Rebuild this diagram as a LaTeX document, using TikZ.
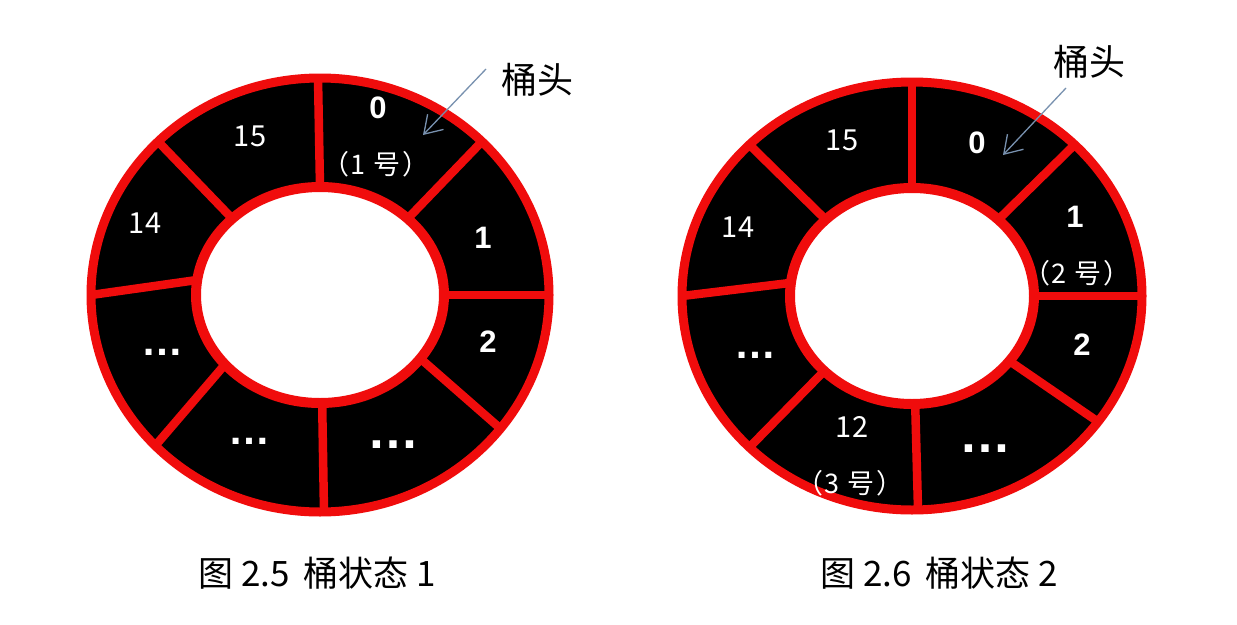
\documentclass[tikz,border=0pt]{standalone}
\usepackage{fontspec}
\setmainfont{Liberation Sans}
\newfontfamily\cjk{Noto Sans CJK SC}
\usetikzlibrary{arrows.meta}
\definecolor{ringred}{RGB}{240,12,12}
\definecolor{headblue}{RGB}{120,145,175}
\newcommand{\haotext}[1]{（\hspace{1pt}#1\hspace{9pt}号\hspace{2pt}）}
\begin{document}
\begin{tikzpicture}[x=1pt,y=-1pt,
  redline/.style={draw=ringred,line width=9pt},
  divider/.style={draw=ringred,line width=8.5pt},
  numb/.style={text=white,inner sep=0pt,font=\fontsize{31}{33}\selectfont\bfseries},
  numn/.style={text=white,inner sep=0pt,font=\cjk\fontsize{29}{31}\selectfont},
  hao/.style={text=white,inner sep=0pt,font=\cjk\fontsize{27}{29}\selectfont},
  dotsn/.style={text=white,inner sep=0pt,font=\fontsize{42}{44}\selectfont\bfseries},
  dotsb/.style={text=white,inner sep=0pt,font=\fontsize{52}{54}\selectfont\bfseries},
  headlbl/.style={text=black,inner sep=0pt,font=\cjk\fontsize{36}{38}\selectfont},
  caption/.style={text=black,inner sep=0pt,font=\cjk\fontsize{35}{37}\selectfont},
  headarrow/.style={draw=headblue,line width=1.3pt,-{Straight Barb[length=17pt,width=22pt,line width=1.3pt]}}
]
\useasboundingbox[fill=white] (0,0) rectangle (1237,624);

% ---------- ring 1 ----------
\begin{scope}[shift={(320,295)}]
  \fill[black,even odd rule] (0,0) ellipse [x radius=229pt,y radius=217pt]
                             (0,0) ellipse [x radius=124pt,y radius=108pt];
  \draw[divider] (90:124pt and 108pt) -- (90.5:229pt and 217pt);
  \draw[divider] (45:124pt and 108pt) -- (45:229pt and 217pt);
  \draw[divider] (0:124pt and 108pt) -- (0:229pt and 217pt);
  \draw[divider] (-36:124pt and 108pt) -- (-38:229pt and 217pt);
  \draw[divider] (-89:124pt and 108pt) -- (-89:229pt and 217pt);
  \draw[divider] (220:124pt and 108pt) -- (224:229pt and 217pt);
  \draw[divider] (172:124pt and 108pt) -- (180:229pt and 217pt);
  \draw[divider] (135:124pt and 108pt) -- (135:229pt and 217pt);
  \draw[redline] (0,0) ellipse [x radius=229pt,y radius=217pt];
  \draw[redline,line width=10pt] (0,0) ellipse [x radius=124pt,y radius=108pt];
\end{scope}

\node[numb] (a0) at (378,108) {0};
\node[hao] (a0h) at (376,164) {\haotext{1}};
\node[numn] (a15) at (250,136) {15};
\node[numn] (a14) at (145,223) {14};
\node[numb] (a1) at (483,238) {1};
\node[numb] (a2) at (488,342) {2};
\node[dotsn] (ad1) at (162,352) {…};
\node[dotsn] (ad2) at (249,441) {…};
\node[dotsb] (ad3) at (393,445) {…};

\node[headlbl] (head1) at (537,80) {桶头};
\coordinate (tail1) at (486,69);
\coordinate (tip1) at (423,135);
\draw[headarrow] (tail1) -- (tip1);

% ---------- ring 2 ----------
\begin{scope}[shift={(912,296)}]
  \fill[black,even odd rule] (0,0) ellipse [x radius=230pt,y radius=214pt]
                             (0,0) ellipse [x radius=122pt,y radius=108pt];
  \draw[divider] (90:122pt and 108pt) -- (90:230pt and 214pt);
  \draw[divider] (45:122pt and 108pt) -- (45:230pt and 214pt);
  \draw[divider] (0:122pt and 108pt) -- (0:230pt and 214pt);
  \draw[divider] (-37:122pt and 108pt) -- (-36:230pt and 214pt);
  \draw[divider] (-88.5:122pt and 108pt) -- (-88.5:230pt and 214pt);
  \draw[divider] (224:122pt and 108pt) -- (225:230pt and 214pt);
  \draw[divider] (173:122pt and 108pt) -- (180:230pt and 214pt);
  \draw[divider] (135:122pt and 108pt) -- (135:230pt and 214pt);
  \draw[redline] (0,0) ellipse [x radius=230pt,y radius=214pt];
  \draw[redline,line width=10pt] (0,0) ellipse [x radius=122pt,y radius=108pt];
\end{scope}

\node[numn] (b15) at (842,140) {15};
\node[numb] (b0) at (977,143) {0};
\node[numn] (b14) at (738,227) {14};
\node[numb] (b1) at (1075,217) {1};
\node[hao] (b1h) at (1077,273) {\haotext{2}};
\node[numb] (b2) at (1082,345) {2};
\node[dotsn] (bd1) at (755,355) {…};
\node[numn] (b12) at (852,427) {12};
\node[hao] (b12h) at (850,483) {\haotext{3}};
\node[dotsb] (bd2) at (985,449) {…};

\node[headlbl] (head2) at (1089,62) {桶头};
\coordinate (tail2) at (1066,88);
\coordinate (tip2) at (1003,155);
\draw[headarrow] (tail2) -- (tip2);

% ---------- captions ----------
\node[caption] (cap1) at (317,573) {图 2.5 \,桶状态 1};
\node[caption] (cap2) at (939,573) {图 2.6 \,桶状态 2};
\end{tikzpicture}
\end{document}
